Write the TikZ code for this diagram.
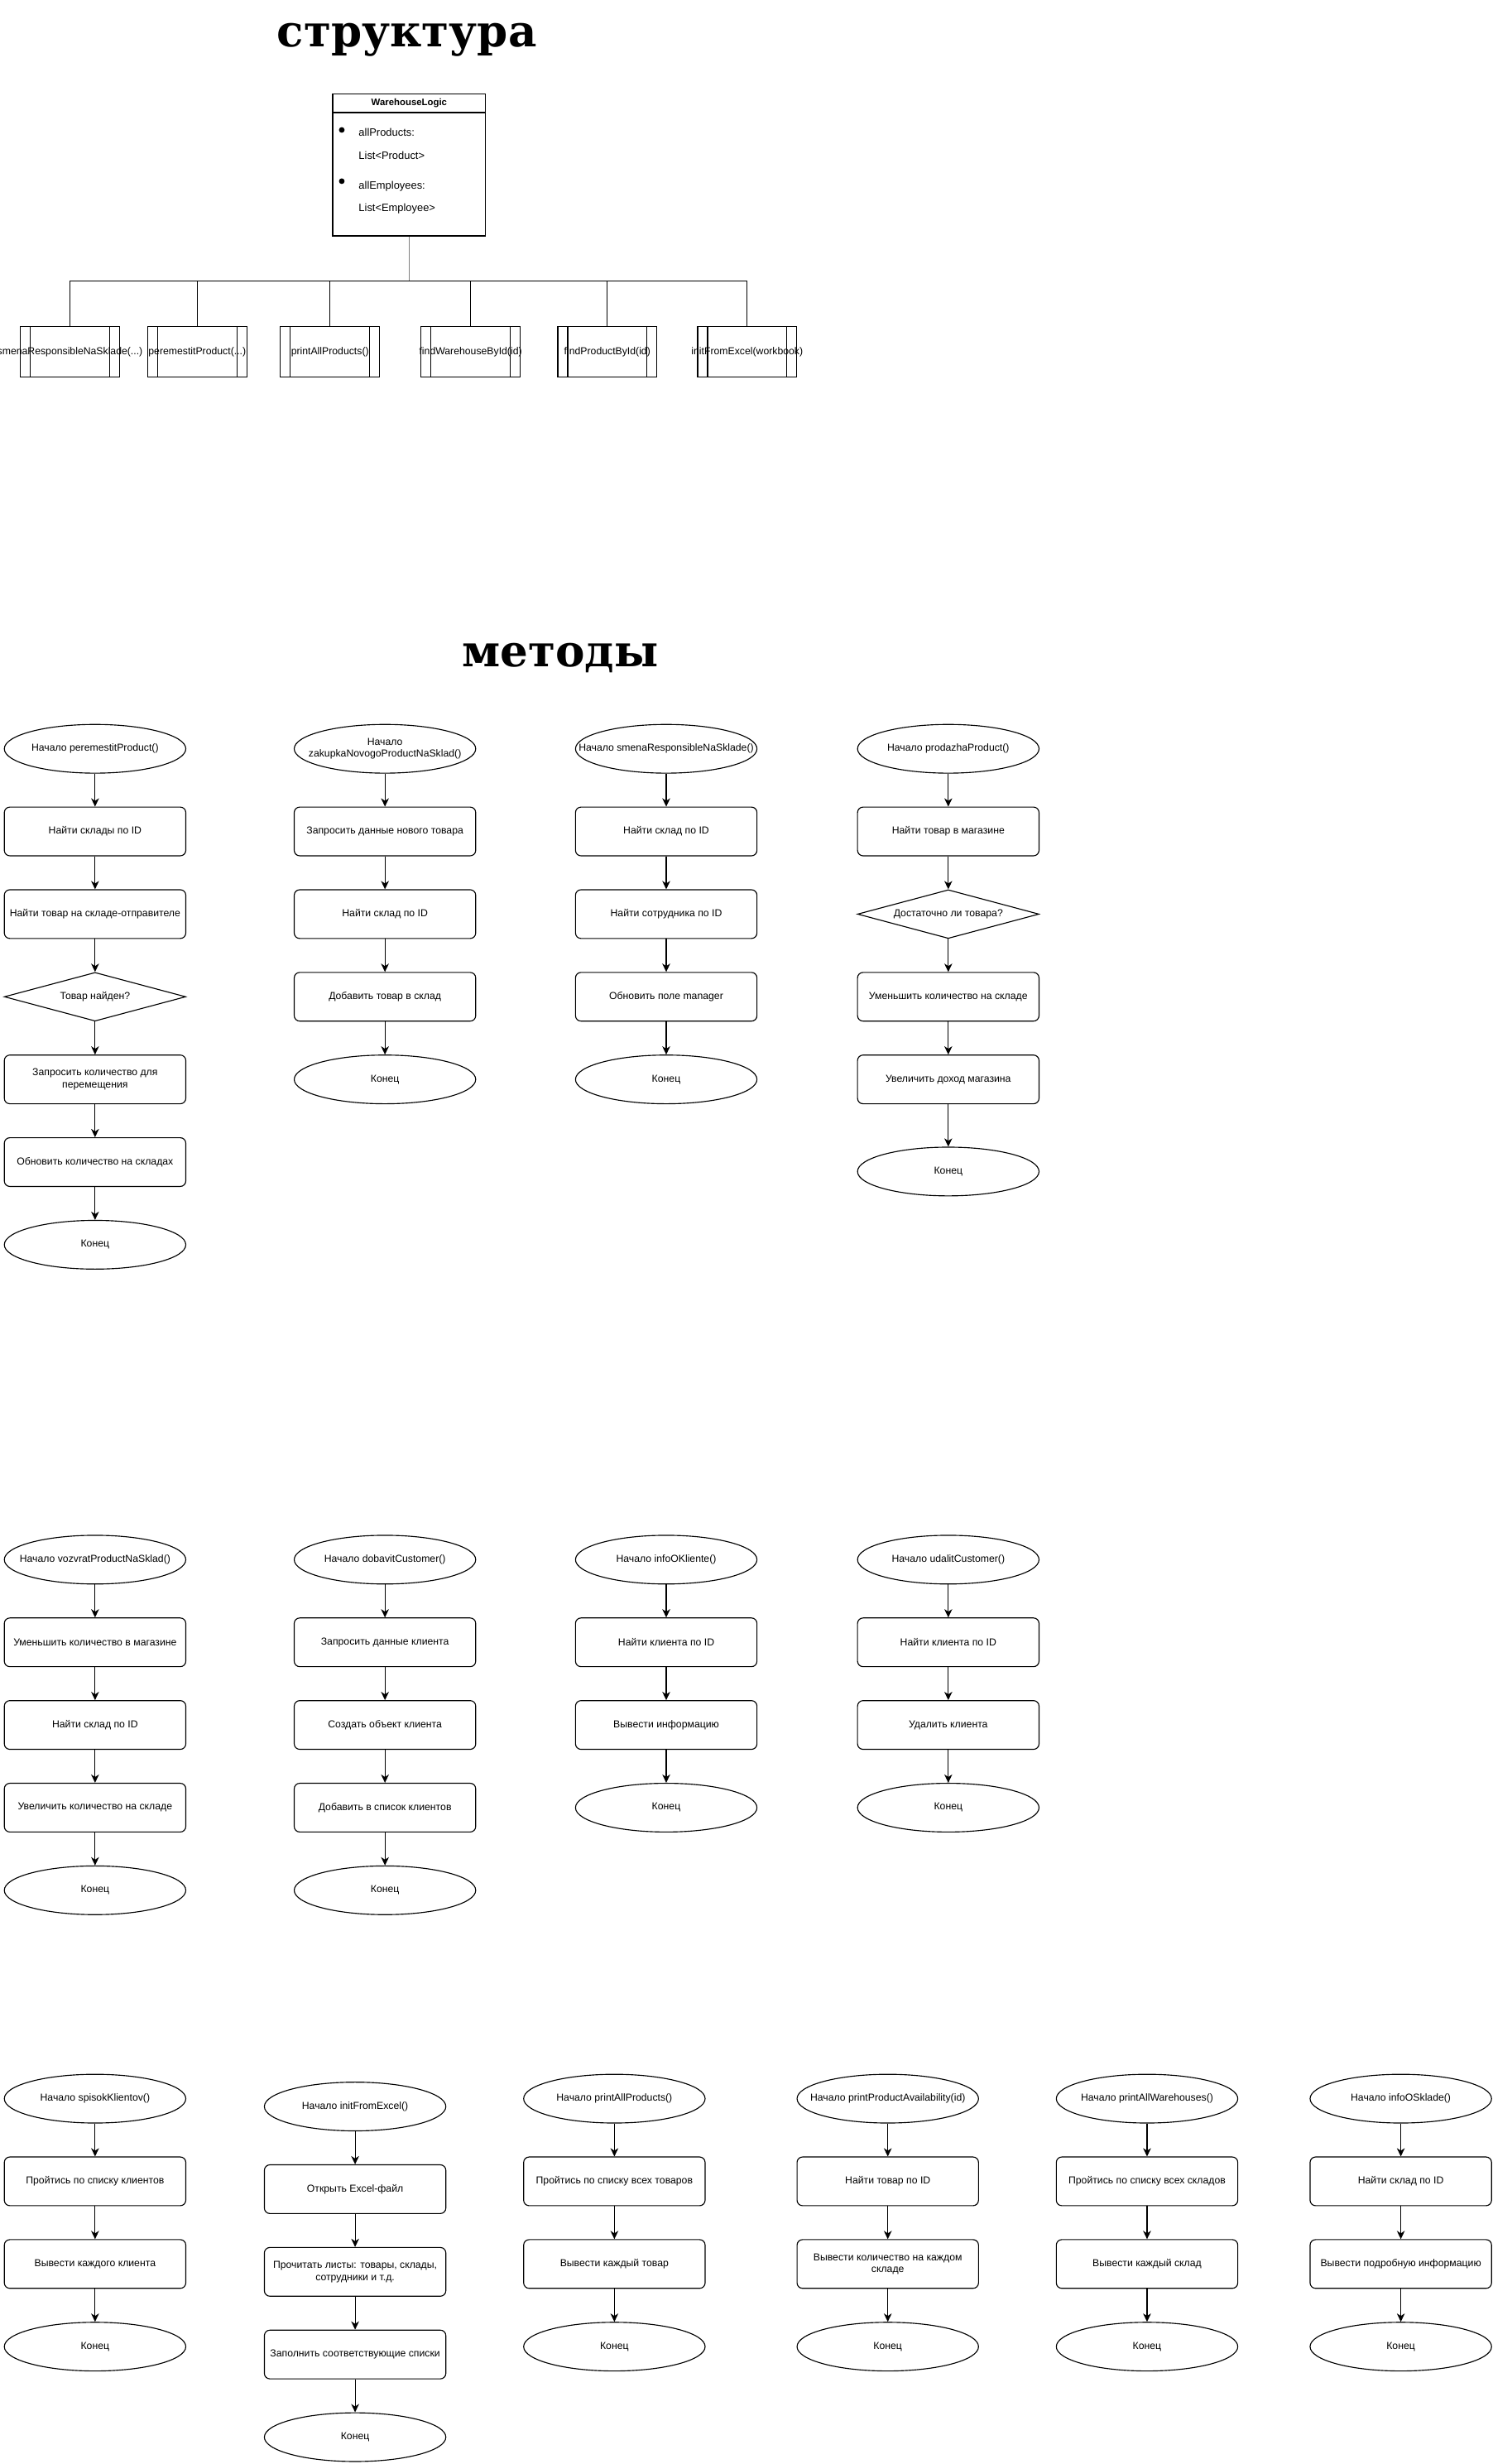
\documentclass[tikz,border=0pt]{standalone}
\usepackage{fontspec}
\setmainfont{Liberation Sans}
\newfontfamily\titlefont{DejaVu Serif}
\usetikzlibrary{shapes.geometric,arrows.meta}

\begin{document}
    \begin{tikzpicture}[x=1pt,y=-1pt,node distance=52.6pt,>={Stealth[length=5.3pt,width=5pt,inset=1.6pt]},line width=0.6pt,
        flowtext/.style={font=\fontsize{6.45}{7.7}\selectfont,align=center},
        stepbox/.style={draw,rectangle,rounded corners=3.5pt,minimum width=115.5pt,minimum height=31pt,inner sep=1pt,flowtext},
        askbox/.style={draw,diamond,aspect=3.7,minimum width=115.5pt,minimum height=31pt,inner sep=0pt,flowtext},
        ovalbox/.style={draw,ellipse,minimum width=115.5pt,minimum height=31pt,inner sep=0pt,label={[flowtext]center:#1}},
        funcbox/.style={draw,rectangle,minimum width=63pt,minimum height=32pt,inner sep=0pt,label={[flowtext]center:#1},
            path picture={\draw ([xshift=6.3pt]path picture bounding box.north west) -- ([xshift=6.3pt]path picture bounding box.south west)
                ([xshift=-6.3pt]path picture bounding box.north east) -- ([xshift=-6.3pt]path picture bounding box.south east);}},
        fieldtext/.style={anchor=west,inner sep=0pt,font=\fontsize{6.8}{8}\selectfont},
        titletext/.style={anchor=base,inner sep=0pt,font=\titlefont\bfseries\fontsize{28}{30}\selectfont}]
        \useasboundingbox (0,0) rectangle (950,1568);

        \node[titletext] (structTitle) at (259,30) {структура};
        \node[titletext] (methodsTitle) at (356.5,424) {методы};

        \node[draw,minimum width=97.4pt,minimum height=78pt,inner sep=0pt] (wlBody) at (260.4,111.1) {};
        \node[draw,minimum width=97.4pt,minimum height=11.5pt,inner sep=0pt,anchor=south,font=\bfseries\fontsize{6}{7}\selectfont] (wlHead) at (wlBody.north) {WarehouseLogic};
        \fill (217.5,82.7) circle (1.8pt);
        \fill (217.5,115.3) circle (1.8pt);
        \node[fieldtext] (fProd) at (228,84.3) {allProducts:};
        \node[fieldtext] (fProdType) at (228,99) {List<Product>};
        \node[fieldtext] (fEmp) at (228,118.5) {allEmployees:};
        \node[fieldtext] (fEmpType) at (228,132.7) {List<Employee>};

        \node[funcbox={smenaResponsibleNaSklade(...)}] (fnSmena) at (44.5,224) {};
        \node[funcbox={peremestitProduct(...)}] (fnMove) at (125.5,224) {};
        \node[funcbox={printAllProducts()}] (fnPrint) at (210,224) {};
        \node[funcbox={findWarehouseById(id)}] (fnFindWh) at (299.5,224) {};
        \node[funcbox={findProductById(id)}] (fnFindProd) at (386.5,224) {};
        \node[funcbox={initFromExcel(workbook)}] (fnInit) at (475.5,224) {};

        \coordinate (hub) at (260.4,179);
        \draw[gray] (wlBody.south) -- (hub);
        \draw (fnSmena.north) |- (hub);
        \draw (fnMove.north) |- (hub);
        \draw (fnPrint.north) |- (hub);
        \draw (fnFindWh.north) |- (hub);
        \draw (fnFindProd.north) |- (hub);
        \draw (fnInit.north) |- (hub);

        \node[ovalbox={Начало peremestitProduct()}] (mvStart) at (60.5,476.5) {};
        \node[stepbox,below of=mvStart] (mvFindWh) {Найти склады по ID};
        \node[stepbox,below of=mvFindWh] (mvFindItem) {Найти товар на складе-отправителе};
        \node[askbox,below of=mvFindItem] (mvFound) {Товар найден?};
        \node[stepbox,below of=mvFound] (mvQty) {Запросить количество для\\перемещения};
        \node[stepbox,below of=mvQty] (mvUpdate) {Обновить количество на складах};
        \node[ovalbox=Конец,below of=mvUpdate] (mvEnd) {};

        \node[ovalbox={Начало\\zakupkaNovogoProductNaSklad()}] (buyStart) at (245,476.5) {};
        \node[stepbox,below of=buyStart] (buyAsk) {Запросить данные нового товара};
        \node[stepbox,below of=buyAsk] (buyFindWh) {Найти склад по ID};
        \node[stepbox,below of=buyFindWh] (buyAdd) {Добавить товар в склад};
        \node[ovalbox=Конец,below of=buyAdd] (buyEnd) {};

        \node[ovalbox={Начало smenaResponsibleNaSklade()}] (swStart) at (424,476.5) {};
        \node[stepbox,below of=swStart] (swFindWh) {Найти склад по ID};
        \node[stepbox,below of=swFindWh] (swFindEmp) {Найти сотрудника по ID};
        \node[stepbox,below of=swFindEmp] (swUpdate) {Обновить поле manager};
        \node[ovalbox=Конец,below of=swUpdate] (swEnd) {};

        \node[ovalbox={Начало prodazhaProduct()}] (sellStart) at (603.5,476.5) {};
        \node[stepbox,below of=sellStart] (sellFind) {Найти товар в магазине};
        \node[askbox,below of=sellFind] (sellEnough) {Достаточно ли товара?};
        \node[stepbox,below of=sellEnough] (sellDecr) {Уменьшить количество на складе};
        \node[stepbox,below of=sellDecr] (sellIncome) {Увеличить доход магазина};
        \node[ovalbox=Конец,below of=sellIncome,yshift=-6pt] (sellEnd) {};

        \node[ovalbox={Начало vozvratProductNaSklad()}] (retStart) at (60.5,992.5) {};
        \node[stepbox,below of=retStart] (retDecr) {Уменьшить количество в магазине};
        \node[stepbox,below of=retDecr] (retFindWh) {Найти склад по ID};
        \node[stepbox,below of=retFindWh] (retIncr) {Увеличить количество на складе};
        \node[ovalbox=Конец,below of=retIncr] (retEnd) {};

        \node[ovalbox={Начало dobavitCustomer()}] (addStart) at (245,992.5) {};
        \node[stepbox,below of=addStart] (addAsk) {Запросить данные клиента};
        \node[stepbox,below of=addAsk] (addCreate) {Создать объект клиента};
        \node[stepbox,below of=addCreate] (addPut) {Добавить в список клиентов};
        \node[ovalbox=Конец,below of=addPut] (addEnd) {};

        \node[ovalbox={Начало infoOKliente()}] (infoStart) at (424,992.5) {};
        \node[stepbox,below of=infoStart] (infoFind) {Найти клиента по ID};
        \node[stepbox,below of=infoFind] (infoShow) {Вывести информацию};
        \node[ovalbox=Конец,below of=infoShow] (infoEnd) {};

        \node[ovalbox={Начало udalitCustomer()}] (delStart) at (603.5,992.5) {};
        \node[stepbox,below of=delStart] (delFind) {Найти клиента по ID};
        \node[stepbox,below of=delFind] (delRemove) {Удалить клиента};
        \node[ovalbox=Конец,below of=delRemove] (delEnd) {};

        \node[ovalbox={Начало spisokKlientov()}] (listStart) at (60.5,1335.5) {};
        \node[stepbox,below of=listStart] (listLoop) {Пройтись по списку клиентов};
        \node[stepbox,below of=listLoop] (listShow) {Вывести каждого клиента};
        \node[ovalbox=Конец,below of=listShow] (listEnd) {};

        \node[ovalbox={Начало initFromExcel()}] (xlsStart) at (226,1340.5) {};
        \node[stepbox,below of=xlsStart] (xlsOpen) {Открыть Excel-файл};
        \node[stepbox,below of=xlsOpen] (xlsRead) {Прочитать листы: товары, склады,\\сотрудники и т.д.};
        \node[stepbox,below of=xlsRead] (xlsFill) {Заполнить соответствующие списки};
        \node[ovalbox=Конец,below of=xlsFill] (xlsEnd) {};

        \node[ovalbox={Начало printAllProducts()}] (prodStart) at (391,1335.5) {};
        \node[stepbox,below of=prodStart] (prodLoop) {Пройтись по списку всех товаров};
        \node[stepbox,below of=prodLoop] (prodShow) {Вывести каждый товар};
        \node[ovalbox=Конец,below of=prodShow] (prodEnd) {};

        \node[ovalbox={Начало printProductAvailability(id)}] (availStart) at (565,1335.5) {};
        \node[stepbox,below of=availStart] (availFind) {Найти товар по ID};
        \node[stepbox,below of=availFind] (availShow) {Вывести количество на каждом\\складе};
        \node[ovalbox=Конец,below of=availShow] (availEnd) {};

        \node[ovalbox={Начало printAllWarehouses()}] (whStart) at (730,1335.5) {};
        \node[stepbox,below of=whStart] (whLoop) {Пройтись по списку всех складов};
        \node[stepbox,below of=whLoop] (whShow) {Вывести каждый склад};
        \node[ovalbox=Конец,below of=whShow] (whEnd) {};

        \node[ovalbox={Начало infoOSklade()}] (oskStart) at (891.5,1335.5) {};
        \node[stepbox,below of=oskStart] (oskFind) {Найти склад по ID};
        \node[stepbox,below of=oskFind] (oskShow) {Вывести подробную информацию};
        \node[ovalbox=Конец,below of=oskShow] (oskEnd) {};

        \draw[->] (mvStart) -- (mvFindWh);
        \draw[->] (mvFindWh) -- (mvFindItem);
        \draw[->] (mvFindItem) -- (mvFound);
        \draw[->] (mvFound) -- (mvQty);
        \draw[->] (mvQty) -- (mvUpdate);
        \draw[->] (mvUpdate) -- (mvEnd);

        \draw[->] (buyStart) -- (buyAsk);
        \draw[->] (buyAsk) -- (buyFindWh);
        \draw[->] (buyFindWh) -- (buyAdd);
        \draw[->] (buyAdd) -- (buyEnd);

        \draw[->] (swStart) -- (swFindWh);
        \draw[->] (swFindWh) -- (swFindEmp);
        \draw[->] (swFindEmp) -- (swUpdate);
        \draw[->] (swUpdate) -- (swEnd);

        \draw[->] (sellStart) -- (sellFind);
        \draw[->] (sellFind) -- (sellEnough);
        \draw[->] (sellEnough) -- (sellDecr);
        \draw[->] (sellDecr) -- (sellIncome);
        \draw[->] (sellIncome) -- (sellEnd);

        \draw[->] (retStart) -- (retDecr);
        \draw[->] (retDecr) -- (retFindWh);
        \draw[->] (retFindWh) -- (retIncr);
        \draw[->] (retIncr) -- (retEnd);

        \draw[->] (addStart) -- (addAsk);
        \draw[->] (addAsk) -- (addCreate);
        \draw[->] (addCreate) -- (addPut);
        \draw[->] (addPut) -- (addEnd);

        \draw[->] (infoStart) -- (infoFind);
        \draw[->] (infoFind) -- (infoShow);
        \draw[->] (infoShow) -- (infoEnd);

        \draw[->] (delStart) -- (delFind);
        \draw[->] (delFind) -- (delRemove);
        \draw[->] (delRemove) -- (delEnd);

        \draw[->] (listStart) -- (listLoop);
        \draw[->] (listLoop) -- (listShow);
        \draw[->] (listShow) -- (listEnd);

        \draw[->] (xlsStart) -- (xlsOpen);
        \draw[->] (xlsOpen) -- (xlsRead);
        \draw[->] (xlsRead) -- (xlsFill);
        \draw[->] (xlsFill) -- (xlsEnd);

        \draw[->] (prodStart) -- (prodLoop);
        \draw[->] (prodLoop) -- (prodShow);
        \draw[->] (prodShow) -- (prodEnd);

        \draw[->] (availStart) -- (availFind);
        \draw[->] (availFind) -- (availShow);
        \draw[->] (availShow) -- (availEnd);

        \draw[->] (whStart) -- (whLoop);
        \draw[->] (whLoop) -- (whShow);
        \draw[->] (whShow) -- (whEnd);

        \draw[->] (oskStart) -- (oskFind);
        \draw[->] (oskFind) -- (oskShow);
        \draw[->] (oskShow) -- (oskEnd);
    \end{tikzpicture}
\end{document}
